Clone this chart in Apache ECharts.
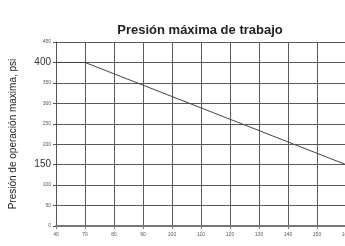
<!DOCTYPE html>
<html>
<head>
<meta charset="utf-8">
<script src="https://cdn.jsdelivr.net/npm/echarts@6/dist/echarts.min.js"></script>
<style>
  html, body { margin: 0; padding: 0; background: #fff; }
  #chart { width: 345px; height: 246px; }
</style>
</head>
<body>
<div id="chart"></div>
<script>
// temperatura (eje x, categorías tal como aparecen)
var temps = ['40', '70', '80', '90', '100', '110', '120', '130', '140', '150', '160'];
// presión máxima, psi (solo los puntos de quiebre)
var presion = [400, 400, null, null, null, null, null, null, null, null, 150];
var bigTicks = [400, 150];

var chart = echarts.init(document.getElementById('chart'), null, { renderer: 'canvas' });

chart.setOption({
    animation: false,
    title: {
        text: 'Presión máxima de trabajo',
        left: 195,
        textAlign: 'center',
        top: 19,
        textStyle: {
            fontFamily: 'Liberation Sans',
            fontSize: 13,
            fontWeight: 'bold',
            color: '#222'
        }
    },
    grid: {
        left: 56,
        right: -1,
        top: 42,
        bottom: 20,
        containLabel: false,
        outerBoundsMode: 'none'
    },
    xAxis: {
        type: 'category',
        data: temps,
        boundaryGap: false,
        axisLine: { show: true, lineStyle: { color: '#777', width: 2 } },
        axisTick: { show: true, length: 3, lineStyle: { color: '#777' } },
        axisLabel: {
            fontFamily: 'Liberation Sans',
            fontSize: 5,
            color: '#555',
            margin: 6,
            interval: 0,
            hideOverlap: false
        },
        splitLine: { show: true, lineStyle: { color: '#5a5a5a', width: 1 } }
    },
    yAxis: {
        type: 'value',
        min: 0,
        max: 450,
        interval: 50,
        name: 'Presión de operación maxima, psi',
        nameLocation: 'middle',
        nameGap: 38,
        nameRotate: 90,
        nameTextStyle: {
            fontFamily: 'Liberation Sans',
            fontSize: 10,
            color: '#222'
        },
        axisLine: { show: true, lineStyle: { color: '#555', width: 1 } },
        axisTick: { show: true, length: 3, lineStyle: { color: '#555' } },
        axisLabel: {
            fontFamily: 'Liberation Sans',
            margin: 5,
            formatter: function (v) {
                return bigTicks.indexOf(v) >= 0 ? '{big|' + v + '}' : '{small|' + v + '}';
            },
            rich: {
                big: { fontSize: 10, color: '#333', fontFamily: 'Liberation Sans' },
                small: { fontSize: 5, color: '#555', fontFamily: 'Liberation Sans' }
            }
        },
        splitLine: { show: true, lineStyle: { color: '#5a5a5a', width: 1 } }
    },
    series: [{
        type: 'line',
        data: presion,
        connectNulls: true,
        showSymbol: false,
        symbol: 'none',
        lineStyle: { color: '#444', width: 1 }
    }]
});
</script>
</body>
</html>
